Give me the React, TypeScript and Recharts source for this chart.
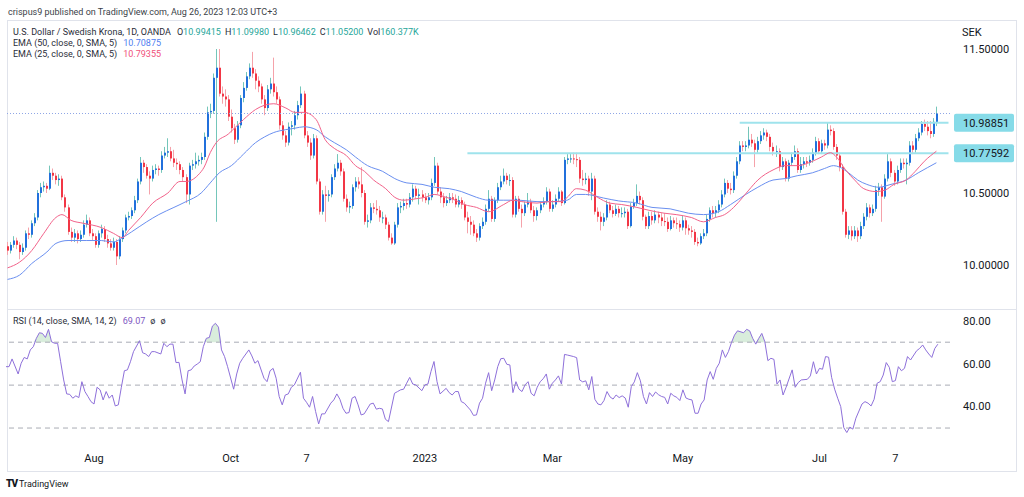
import React from 'react';
import { ComposedChart, Bar, Line, Area, XAxis, YAxis, ReferenceLine } from 'recharts';

const FONT = 'Roboto, "Noto Sans", "DejaVu Sans", sans-serif';

// ---------- price data (daily candles, USD/SEK) ----------
const OPEN = [
  10.13, 10.10, 10.14, 10.17, 10.14, 10.09, 10.12, 10.22, 10.21, 10.29,
  10.33, 10.50, 10.54, 10.55, 10.53, 10.64, 10.62, 10.59, 10.60, 10.47,
  10.40, 10.23, 10.19, 10.22, 10.18, 10.21, 10.28, 10.31, 10.22, 10.20,
  10.14, 10.22, 10.25, 10.18, 10.15, 10.12, 10.16, 10.06, 10.18, 10.24,
  10.33, 10.34, 10.38, 10.45, 10.58, 10.71, 10.68, 10.62, 10.60, 10.66,
  10.67, 10.66, 10.76, 10.78, 10.79, 10.74, 10.71, 10.70, 10.66, 10.61,
  10.49, 10.69, 10.70, 10.72, 10.73, 10.75, 10.89, 11.06, 11.07, 11.30,
  11.37, 11.19, 11.17, 11.15, 11.03, 10.95, 10.87, 10.97, 11.16, 11.23,
  11.31, 11.37, 11.33, 11.28, 11.24, 11.15, 11.09, 11.22, 11.26, 11.20,
  11.15, 10.97, 10.90, 10.85, 10.96, 10.97, 11.04, 11.11, 11.19, 10.90,
  10.85, 10.76, 10.88, 10.58, 10.37, 10.49, 10.48, 10.49, 10.61, 10.67,
  10.71, 10.65, 10.46, 10.40, 10.41, 10.54, 10.58, 10.56, 10.50, 10.30,
  10.31, 10.40, 10.39, 10.38, 10.33, 10.33, 10.28, 10.19, 10.15, 10.28,
  10.40, 10.41, 10.43, 10.42, 10.47, 10.53, 10.48, 10.49, 10.47, 10.45,
  10.47, 10.57, 10.69, 10.51, 10.47, 10.43, 10.45, 10.47, 10.46, 10.42,
  10.45, 10.42, 10.33, 10.30, 10.28, 10.22, 10.19, 10.27, 10.30, 10.39,
  10.46, 10.32, 10.45, 10.54, 10.58, 10.62, 10.59, 10.59, 10.35, 10.46,
  10.39, 10.36, 10.42, 10.44, 10.38, 10.34, 10.38, 10.42, 10.44, 10.51,
  10.39, 10.42, 10.46, 10.51, 10.43, 10.73, 10.74, 10.74, 10.735, 10.73,
  10.60, 10.59, 10.60, 10.51, 10.60, 10.37, 10.335, 10.30, 10.33, 10.42,
  10.38, 10.355, 10.39, 10.36, 10.36, 10.37, 10.27, 10.405, 10.43, 10.48,
  10.45, 10.335, 10.27, 10.34, 10.31, 10.35, 10.33, 10.305, 10.30, 10.25,
  10.31, 10.29, 10.285, 10.26, 10.31, 10.255, 10.24, 10.23, 10.16, 10.15,
  10.20, 10.22, 10.32, 10.38, 10.36, 10.38, 10.42, 10.49, 10.57, 10.53,
  10.52, 10.62, 10.72, 10.83, 10.82, 10.83, 10.87, 10.845, 10.80, 10.86,
  10.90, 10.92, 10.89, 10.82, 10.79, 10.79, 10.68, 10.72, 10.60, 10.71,
  10.75, 10.79, 10.66, 10.70, 10.72, 10.71, 10.73, 10.78, 10.86, 10.79,
  10.845, 10.83, 10.94, 10.93, 10.82, 10.76, 10.68, 10.37, 10.21, 10.24,
  10.20, 10.24, 10.20, 10.27, 10.335, 10.40, 10.36, 10.39, 10.52, 10.54,
  10.475, 10.60, 10.72, 10.64, 10.58, 10.66, 10.71, 10.70, 10.71, 10.83,
  10.80, 10.88, 10.92, 10.98, 10.96, 10.93, 10.91, 10.994,
];

const HIGH = [
  10.16, 10.16, 10.20, 10.19, 10.16, 10.15, 10.24, 10.26, 10.31, 10.36,
  10.52, 10.57, 10.58, 10.57, 10.69, 10.67, 10.64, 10.63, 10.62, 10.49,
  10.42, 10.26, 10.25, 10.24, 10.24, 10.31, 10.35, 10.33, 10.25, 10.22,
  10.24, 10.28, 10.27, 10.21, 10.18, 10.19, 10.18, 10.20, 10.26, 10.35,
  10.37, 10.40, 10.48, 10.60, 10.75, 10.73, 10.70, 10.65, 10.69, 10.70,
  10.69, 10.79, 10.82, 10.88, 10.82, 10.80, 10.74, 10.72, 10.68, 10.63,
  10.71, 10.73, 10.78, 10.76, 10.78, 10.92, 11.10, 11.12, 11.33, 11.50,
  11.50, 11.24, 11.22, 11.18, 11.08, 10.98, 11.00, 11.18, 11.27, 11.34,
  11.40, 11.48, 11.36, 11.31, 11.26, 11.18, 11.25, 11.30, 11.44, 11.24,
  11.17, 11.00, 10.93, 10.99, 11.00, 11.07, 11.14, 11.24, 11.21, 10.93,
  10.88, 10.91, 10.90, 10.60, 10.52, 10.55, 10.52, 10.63, 10.70, 10.77,
  10.73, 10.67, 10.49, 10.44, 10.56, 10.61, 10.61, 10.68, 10.52, 10.35,
  10.43, 10.43, 10.45, 10.41, 10.37, 10.35, 10.30, 10.22, 10.30, 10.43,
  10.44, 10.46, 10.46, 10.50, 10.56, 10.55, 10.53, 10.52, 10.50, 10.50,
  10.60, 10.75, 10.71, 10.54, 10.50, 10.48, 10.50, 10.50, 10.49, 10.48,
  10.47, 10.44, 10.37, 10.34, 10.31, 10.25, 10.29, 10.33, 10.42, 10.52,
  10.48, 10.47, 10.57, 10.62, 10.67, 10.64, 10.63, 10.61, 10.48, 10.48,
  10.42, 10.44, 10.50, 10.46, 10.41, 10.40, 10.44, 10.47, 10.54, 10.53,
  10.45, 10.49, 10.54, 10.52, 10.75, 10.77, 10.77, 10.78, 10.78, 10.75,
  10.66, 10.64, 10.62, 10.64, 10.62, 10.40, 10.37, 10.36, 10.45, 10.44,
  10.41, 10.42, 10.41, 10.40, 10.40, 10.39, 10.43, 10.46, 10.56, 10.51,
  10.47, 10.35, 10.37, 10.37, 10.38, 10.37, 10.36, 10.36, 10.33, 10.34,
  10.33, 10.33, 10.31, 10.34, 10.33, 10.28, 10.27, 10.25, 10.19, 10.22,
  10.25, 10.35, 10.40, 10.41, 10.41, 10.45, 10.52, 10.60, 10.59, 10.57,
  10.65, 10.75, 10.86, 10.86, 10.86, 10.96, 10.91, 10.87, 10.89, 10.93,
  10.95, 10.94, 10.91, 10.85, 10.83, 10.81, 10.75, 10.74, 10.73, 10.78,
  10.83, 10.81, 10.75, 10.75, 10.75, 10.76, 10.81, 10.89, 10.88, 10.87,
  10.87, 10.99, 10.97, 10.95, 10.84, 10.78, 10.70, 10.39, 10.27, 10.27,
  10.27, 10.26, 10.30, 10.36, 10.43, 10.42, 10.42, 10.55, 10.57, 10.56,
  10.63, 10.77, 10.74, 10.66, 10.69, 10.74, 10.74, 10.74, 10.86, 10.86,
  10.91, 10.95, 11.00, 11.01, 11.00, 11.00, 11.02, 11.0998,
];

const LOW = [
  10.07, 10.08, 10.12, 10.11, 10.04, 10.07, 10.10, 10.18, 10.19, 10.27,
  10.31, 10.47, 10.51, 10.50, 10.52, 10.59, 10.56, 10.55, 10.45, 10.37,
  10.21, 10.16, 10.16, 10.15, 10.16, 10.19, 10.26, 10.20, 10.17, 10.12,
  10.12, 10.19, 10.16, 10.12, 10.10, 10.10, 10.00, 10.04, 10.16, 10.22,
  10.31, 10.32, 10.36, 10.43, 10.56, 10.64, 10.60, 10.49, 10.58, 10.63,
  10.62, 10.64, 10.74, 10.75, 10.72, 10.68, 10.66, 10.63, 10.58, 10.43,
  10.42, 10.66, 10.67, 10.69, 10.70, 10.73, 10.87, 11.02, 11.05, 10.30,
  11.17, 11.12, 11.10, 11.00, 10.92, 10.84, 10.85, 10.95, 11.13, 11.21,
  11.29, 11.30, 11.22, 11.20, 11.12, 11.04, 11.07, 11.19, 11.17, 11.12,
  10.94, 10.87, 10.82, 10.83, 10.90, 10.94, 11.01, 11.09, 10.88, 10.82,
  10.73, 10.74, 10.56, 10.35, 10.35, 10.30, 10.44, 10.47, 10.59, 10.65,
  10.62, 10.44, 10.37, 10.36, 10.39, 10.51, 10.53, 10.47, 10.28, 10.26,
  10.29, 10.36, 10.35, 10.30, 10.29, 10.25, 10.17, 10.14, 10.14, 10.26,
  10.36, 10.38, 10.39, 10.40, 10.44, 10.46, 10.42, 10.44, 10.43, 10.42,
  10.45, 10.55, 10.49, 10.43, 10.40, 10.41, 10.43, 10.43, 10.40, 10.40,
  10.39, 10.31, 10.22, 10.21, 10.20, 10.16, 10.17, 10.25, 10.28, 10.37,
  10.30, 10.30, 10.43, 10.52, 10.56, 10.56, 10.55, 10.33, 10.33, 10.37,
  10.26, 10.34, 10.40, 10.36, 10.30, 10.31, 10.36, 10.40, 10.42, 10.37,
  10.37, 10.40, 10.44, 10.41, 10.42, 10.70, 10.71, 10.70, 10.68, 10.57,
  10.55, 10.56, 10.48, 10.45, 10.35, 10.30, 10.24, 10.27, 10.31, 10.36,
  10.33, 10.34, 10.33, 10.33, 10.33, 10.25, 10.26, 10.39, 10.41, 10.42,
  10.31, 10.25, 10.25, 10.28, 10.29, 10.29, 10.27, 10.27, 10.23, 10.24,
  10.26, 10.25, 10.23, 10.24, 10.21, 10.21, 10.19, 10.14, 10.13, 10.14,
  10.18, 10.20, 10.30, 10.33, 10.33, 10.36, 10.40, 10.47, 10.50, 10.49,
  10.50, 10.60, 10.70, 10.79, 10.79, 10.81, 10.82, 10.68, 10.78, 10.84,
  10.87, 10.86, 10.79, 10.76, 10.75, 10.65, 10.66, 10.58, 10.58, 10.69,
  10.73, 10.64, 10.64, 10.67, 10.68, 10.69, 10.71, 10.76, 10.77, 10.77,
  10.80, 10.81, 10.90, 10.80, 10.73, 10.65, 10.35, 10.19, 10.18, 10.17,
  10.18, 10.16, 10.18, 10.25, 10.31, 10.33, 10.34, 10.37, 10.48, 10.30,
  10.46, 10.58, 10.61, 10.55, 10.56, 10.64, 10.67, 10.56, 10.69, 10.77,
  10.78, 10.86, 10.90, 10.93, 10.90, 10.88, 10.89, 10.9646,
];

const CLOSE = [
  10.10, 10.14, 10.17, 10.14, 10.09, 10.12, 10.22, 10.21, 10.29, 10.33,
  10.50, 10.54, 10.55, 10.53, 10.64, 10.62, 10.59, 10.60, 10.47, 10.40,
  10.23, 10.19, 10.22, 10.18, 10.21, 10.28, 10.31, 10.22, 10.20, 10.14,
  10.22, 10.25, 10.18, 10.15, 10.12, 10.16, 10.06, 10.18, 10.24, 10.33,
  10.34, 10.38, 10.45, 10.58, 10.71, 10.68, 10.62, 10.60, 10.66, 10.67,
  10.66, 10.76, 10.78, 10.79, 10.74, 10.71, 10.70, 10.66, 10.61, 10.49,
  10.69, 10.70, 10.72, 10.73, 10.75, 10.89, 11.06, 11.07, 11.30, 11.37,
  11.19, 11.17, 11.15, 11.03, 10.95, 10.87, 10.97, 11.16, 11.23, 11.31,
  11.37, 11.33, 11.28, 11.24, 11.15, 11.09, 11.22, 11.26, 11.20, 11.15,
  10.97, 10.90, 10.85, 10.96, 10.97, 11.04, 11.11, 11.19, 10.90, 10.85,
  10.76, 10.88, 10.58, 10.37, 10.49, 10.48, 10.49, 10.61, 10.67, 10.71,
  10.65, 10.46, 10.40, 10.41, 10.54, 10.58, 10.56, 10.50, 10.30, 10.31,
  10.40, 10.39, 10.38, 10.33, 10.33, 10.28, 10.19, 10.15, 10.28, 10.40,
  10.41, 10.43, 10.42, 10.47, 10.53, 10.48, 10.49, 10.47, 10.45, 10.47,
  10.57, 10.69, 10.51, 10.47, 10.43, 10.45, 10.47, 10.46, 10.42, 10.45,
  10.42, 10.33, 10.30, 10.28, 10.22, 10.19, 10.27, 10.30, 10.39, 10.46,
  10.32, 10.45, 10.54, 10.58, 10.62, 10.59, 10.59, 10.35, 10.46, 10.39,
  10.36, 10.42, 10.44, 10.38, 10.34, 10.38, 10.42, 10.44, 10.51, 10.39,
  10.42, 10.46, 10.51, 10.43, 10.73, 10.74, 10.74, 10.735, 10.73, 10.60,
  10.59, 10.60, 10.51, 10.60, 10.37, 10.335, 10.30, 10.33, 10.42, 10.38,
  10.355, 10.39, 10.36, 10.36, 10.37, 10.27, 10.405, 10.43, 10.48, 10.45,
  10.335, 10.27, 10.34, 10.31, 10.35, 10.33, 10.305, 10.30, 10.25, 10.31,
  10.29, 10.285, 10.26, 10.31, 10.255, 10.24, 10.23, 10.16, 10.15, 10.20,
  10.22, 10.32, 10.38, 10.36, 10.38, 10.42, 10.49, 10.57, 10.53, 10.52,
  10.62, 10.72, 10.83, 10.82, 10.83, 10.87, 10.845, 10.80, 10.86, 10.90,
  10.92, 10.89, 10.82, 10.79, 10.79, 10.68, 10.72, 10.60, 10.71, 10.75,
  10.79, 10.66, 10.70, 10.72, 10.71, 10.73, 10.78, 10.86, 10.79, 10.845,
  10.83, 10.94, 10.93, 10.82, 10.76, 10.68, 10.37, 10.21, 10.24, 10.20,
  10.24, 10.20, 10.27, 10.335, 10.40, 10.36, 10.39, 10.52, 10.54, 10.475,
  10.60, 10.72, 10.64, 10.58, 10.66, 10.71, 10.70, 10.71, 10.83, 10.80,
  10.88, 10.92, 10.98, 10.96, 10.93, 10.91, 10.994, 11.052,
];

// ---------- indicator readings [candle index, value] ----------
const EMA50_PTS: [number, number][] = [
  [0, 9.90], [4, 9.93], [8, 10.01], [13, 10.09], [16, 10.15], [20, 10.17], [26, 10.17], [31, 10.17],
  [35, 10.16], [38, 10.19], [41, 10.23], [46, 10.30], [50, 10.35], [55, 10.40], [59, 10.44], [64, 10.50],
  [67, 10.57], [70, 10.64], [74, 10.69], [78, 10.77], [82, 10.85], [85, 10.89], [88, 10.92], [92, 10.94],
  [95, 10.95], [98, 10.96], [102, 10.94], [105, 10.89], [108, 10.85], [112, 10.80], [115, 10.75], [119, 10.69],
  [124, 10.65], [128, 10.60], [132, 10.57], [137, 10.56], [141, 10.54], [146, 10.53], [150, 10.51], [155, 10.47],
  [159, 10.45], [164, 10.45], [169, 10.45], [175, 10.44], [180, 10.44], [185, 10.45], [188, 10.49], [191, 10.49],
  [197, 10.465], [202, 10.445], [208, 10.43], [213, 10.40], [219, 10.39], [225, 10.36], [230, 10.35], [235, 10.37],
  [239, 10.42], [244, 10.49], [248, 10.54], [253, 10.59], [257, 10.60], [261, 10.62], [266, 10.64], [270, 10.67],
  [273, 10.69], [275, 10.68], [278, 10.64], [281, 10.59], [284, 10.56], [288, 10.54], [292, 10.56], [297, 10.59],
  [301, 10.64], [307, 10.71],
];

const EMA25_PTS: [number, number][] = [
  [0, 9.98], [4, 10.02], [8, 10.10], [12, 10.22], [16, 10.33], [18, 10.35], [21, 10.31], [25, 10.29],
  [31, 10.26], [35, 10.22], [38, 10.19], [40, 10.24], [44, 10.33], [48, 10.43], [53, 10.50], [57, 10.58],
  [59, 10.58], [63, 10.625], [65, 10.68], [67, 10.78], [69, 10.85], [73, 10.91], [75, 10.95], [78, 11.01],
  [82, 11.08], [85, 11.11], [88, 11.12], [92, 11.09], [95, 11.06], [98, 11.06], [102, 11.01], [105, 10.87],
  [108, 10.81], [112, 10.76], [115, 10.69], [118, 10.65], [121, 10.59], [125, 10.53], [128, 10.47], [131, 10.45],
  [135, 10.46], [138, 10.47], [141, 10.49], [145, 10.47], [148, 10.45], [151, 10.42], [155, 10.40], [159, 10.37],
  [164, 10.42], [167, 10.45], [170, 10.44], [175, 10.43], [179, 10.44], [183, 10.44], [185, 10.47], [188, 10.53],
  [191, 10.52], [195, 10.47], [199, 10.43], [203, 10.42], [208, 10.40], [212, 10.38], [217, 10.36], [221, 10.35],
  [226, 10.33], [230, 10.30], [234, 10.33], [237, 10.35], [240, 10.40], [243, 10.47], [245, 10.52], [248, 10.59],
  [253, 10.66], [257, 10.69], [261, 10.69], [266, 10.72], [269, 10.75], [272, 10.78], [274, 10.75], [277, 10.66],
  [280, 10.59], [283, 10.53], [287, 10.51], [290, 10.52], [293, 10.56], [297, 10.59], [300, 10.65], [303, 10.72],
  [307, 10.79],
];

const RSI_PTS: [number, number][] = [
  [0, 58.6], [1, 58.6], [2, 62.2], [4, 55.2], [5, 60.2], [6, 62.9], [7, 62.2], [8, 66.4], [9, 67.9],
  [10, 71.8], [11, 74.4], [12, 74.1], [13, 72.2], [14, 76.0], [15, 70.2], [16, 69.5], [17, 69.5], [18, 60.9], [19, 52.4],
  [20, 45.9], [21, 45.7], [22, 43.9], [23, 45.0], [24, 44.2], [25, 51.6], [26, 47.0], [27, 44.7], [28, 42.3], [29, 41.2],
  [30, 49.0], [31, 47.8], [32, 43.1], [33, 47.0], [34, 43.9], [35, 45.4], [36, 40.3], [37, 40.8], [38, 49.0], [39, 56.7],
  [40, 57.1], [41, 60.9], [42, 65.6], [44, 70.7], [45, 65.1], [46, 64.5], [47, 63.3], [48, 65.6], [49, 65.6],
  [51, 64.5], [52, 69.5], [53, 67.9], [54, 69.1], [55, 69.1], [56, 60.5], [57, 60.6], [58, 52.4], [59, 45.9],
  [60, 56.7], [61, 57.1], [62, 58.9], [63, 59.8], [64, 60.9], [65, 67.9], [66, 71.8], [67, 72.2], [68, 77.5], [69, 78.8],
  [70, 77.0], [71, 66.4], [72, 63.3], [73, 58.6], [75, 48.1], [76, 55.2], [77, 60.2], [78, 62.5],
  [80, 66.4], [81, 63.6], [82, 60.2], [83, 61.4], [85, 53.2], [86, 51.6], [87, 56.7], [88, 57.8], [89, 53.2],
  [90, 44.7], [91, 40.8], [92, 45.4], [93, 45.9], [94, 49.0], [95, 50.1], [97, 56.0], [98, 43.9], [99, 42.0],
  [100, 39.7], [101, 44.7], [102, 37.7], [103, 31.9], [104, 36.6], [105, 36.6], [107, 41.6], [108, 43.1], [109, 45.9],
  [110, 43.4], [111, 39.2], [112, 36.9], [113, 37.2], [114, 43.9], [115, 44.7], [116, 40.8], [117, 36.1], [118, 36.6],
  [120, 41.2], [121, 41.6], [122, 38.8], [123, 39.2], [124, 38.9], [125, 34.1], [126, 33.0], [128, 46.2], [129, 47.0],
  [130, 47.8], [131, 48.1], [132, 50.9], [133, 53.6], [134, 50.5], [135, 50.1], [137, 47.4], [138, 50.1], [139, 50.5],
  [140, 56.3], [141, 61.0], [142, 51.6], [143, 45.9], [145, 48.5], [146, 46.5], [147, 45.4], [148, 47.0], [149, 47.0],
  [150, 42.3], [151, 41.6], [153, 38.4], [154, 35.9], [155, 36.1], [156, 41.6], [157, 43.9], [158, 50.9], [159, 55.8],
  [160, 47.4], [161, 52.4], [162, 58.6], [163, 62.3], [164, 62.5], [165, 59.7], [166, 59.4], [167, 46.5], [168, 51.6], [169, 48.1],
  [170, 47.0], [171, 50.1], [172, 51.6], [173, 46.2], [174, 45.0], [175, 49.0], [176, 51.6], [177, 53.0], [178, 55.2], [179, 48.1],
  [180, 50.9], [181, 52.4], [182, 54.3], [183, 50.5], [184, 64.3], [185, 64.0], [187, 63.3], [188, 62.8], [189, 52.4],
  [190, 51.5], [191, 52.0], [192, 47.8], [193, 54.0], [194, 43.4], [195, 41.2], [196, 40.8], [197, 42.8], [198, 47.0], [199, 44.5],
  [200, 43.5], [201, 45.4], [202, 44.2], [203, 45.0], [204, 44.0], [205, 39.7], [206, 49.3], [207, 51.5], [208, 55.8], [209, 52.0],
  [210, 44.7], [211, 41.2], [212, 46.5], [213, 44.7], [214, 46.8], [215, 45.5], [216, 44.7], [217, 44.3], [218, 41.2], [219, 46.2],
  [220, 45.0], [221, 44.3], [222, 42.8], [223, 47.8], [224, 44.0], [225, 43.4], [226, 43.1], [227, 36.9], [228, 36.9], [229, 41.2],
  [230, 43.1], [231, 52.4], [232, 56.3], [233, 52.7], [234, 57.8], [235, 60.2], [236, 66.4], [237, 62.9], [238, 65.6], [239, 69.8],
  [240, 73.3], [241, 75.3], [243, 74.4], [244, 76.0], [245, 75.3], [246, 71.8], [247, 69.1], [248, 71.8], [249, 74.1],
  [250, 70.2], [251, 61.4], [252, 62.5], [253, 62.0], [254, 50.5], [255, 52.4], [256, 45.4], [257, 49.0], [259, 57.1],
  [260, 49.0], [261, 51.2], [262, 52.4], [264, 52.7], [265, 54.3], [266, 60.9], [267, 55.2], [268, 57.8], [269, 57.4],
  [270, 63.3], [271, 63.0], [272, 53.6], [273, 48.1], [274, 43.9], [275, 40.0], [276, 30.2], [277, 27.9], [278, 30.4], [279, 29.5],
  [280, 34.6], [282, 41.2], [283, 42.3], [284, 41.6], [285, 40.3], [286, 43.4], [287, 50.9], [288, 51.6], [289, 54.7],
  [290, 60.5], [291, 58.3], [292, 51.6], [293, 52.1], [294, 58.6], [295, 56.7], [296, 57.8], [297, 63.3], [298, 61.7],
  [300, 66.0], [301, 67.1], [302, 68.7], [303, 66.4], [304, 64.5], [305, 62.9], [306, 67.1], [307, 69.07],
];

// ---------- axis / annotation values ----------
const TICK_IDX = [29, 74, 99, 138, 180, 223, 268, 293];
const TICK_LABELS = ['Aug', 'Oct', '7', '2023', 'Mar', 'May', 'Jul', '7'];
const PRICE_TICKS = [10, 10.5, 11.5];
const LEVELS = [10.98851, 10.77592];
const LEVEL_START = [242, 152];
const LAST_CLOSE = 11.052;
const RSI_TICKS = [40, 60, 80];
const RSI_BANDS = [70, 50, 30];
const PAD = 4;

// ---------- styling ----------
const BODY_UP = '#2170dc';
const BODY_DN = '#f23645';
const WICK_UP = '#74c6ba';
const WICK_DN = '#f5a2aa';
const EMA50_C = '#6a8ff0';
const EMA25_C = '#f2628a';
const RSI_C = '#8e70da';
const LEVEL_LINE = '#9fe3ec';
const LEVEL_BOX = '#86dbe8';
const TEXT = '#131722';
const BORDER = '#e0e3eb';

type Row = {
  i: number; o?: number; h?: number; l?: number; c?: number;
  range?: [number, number]; ema25?: number; ema50?: number; rsi?: number; ob?: [number, number];
};

const rows: Row[] = [];
for (let i = 0; i < CLOSE.length + PAD; i++) {
  const r: Row = { i };
  if (i < CLOSE.length) {
    r.o = OPEN[i]; r.h = HIGH[i]; r.l = LOW[i]; r.c = CLOSE[i];
    r.range = [LOW[i], HIGH[i]];
  }
  rows.push(r);
}
EMA50_PTS.forEach(([i, v]) => { rows[i].ema50 = v; });
EMA25_PTS.forEach(([i, v]) => { rows[i].ema25 = v; });
RSI_PTS.forEach(([i, v]) => { rows[i].rsi = v; rows[i].ob = [70, Math.max(70, v)]; });
const LAST_I = rows.length - 1;

const Candle = (p: any) => {
  const { x, y, width, height, payload } = p;
  if (!payload || payload.h == null || !isFinite(y) || !isFinite(height)) return null;
  const top = Math.min(y, y + height);
  const hh = Math.abs(height);
  const { o, c, h, l } = payload;
  const k = hh / Math.max(1e-9, h - l);
  const bTop = top + (h - Math.max(o, c)) * k;
  const bBot = top + (h - Math.min(o, c)) * k;
  const up = c >= o;
  const px = Math.round(x + width / 2);
  return (
    <g>
      <line x1={px - 0.5} x2={px - 0.5} y1={top} y2={top + hh} stroke={up ? WICK_UP : WICK_DN} strokeWidth={1} />
      <rect x={px - 1} y={bTop} width={2} height={Math.max(1, bBot - bTop)} fill={up ? BODY_UP : BODY_DN} />
    </g>
  );
};

const PriceTick = (p: any) => {
  const { x, y, payload } = p;
  const v = payload.value as number;
  const isLevel = LEVELS.includes(v);
  return (
    <g>
      {isLevel && <rect x={x + 4} y={y - 9} width={60} height={18} rx={2} fill={LEVEL_BOX} />}
      <text x={x + 13} y={y} dy="0.35em" fontSize={11} fill={TEXT} fontFamily={FONT}>{v.toFixed(5)}</text>
    </g>
  );
};

const RsiTick = (p: any) => {
  const { x, y, payload } = p;
  return (
    <text x={x + 13} y={y} dy="0.35em" fontSize={11} fill={TEXT} fontFamily={FONT}>
      {(payload.value as number).toFixed(2)}
    </text>
  );
};

const TimeTick = (p: any) => {
  const { x, y, payload } = p;
  const idx = TICK_IDX.indexOf(payload.value);
  return (
    <text x={x} y={y + 13} dy="0.35em" textAnchor="middle" fontSize={11} fill={TEXT} fontFamily={FONT}>
      {idx >= 0 ? TICK_LABELS[idx] : ''}
    </text>
  );
};

const small: React.CSSProperties = { position: 'absolute', fontSize: 9, lineHeight: '12px', whiteSpace: 'nowrap', fontFamily: FONT, color: '#2a2e39' };
const teal: React.CSSProperties = { color: '#26a69a' };
const gap: React.CSSProperties = { marginLeft: 4 };

export default function App() {
  return (
    <div style={{ position: 'absolute', left: 0, top: 0, width: 1024, height: 497, background: '#fff', overflow: 'hidden', fontFamily: FONT }}>
      {/* frame */}
      <div style={{ position: 'absolute', left: 7, top: 20, width: 1008, height: 450, border: `1px solid ${BORDER}` }} />
      <div style={{ position: 'absolute', left: 8, top: 309, width: 1008, height: 1, background: BORDER }} />

      {/* price pane */}
      <div style={{ position: 'absolute', left: 0, top: 22 }}>
        <ComposedChart width={1024} height={286} data={rows} margin={{ top: 0, right: 0, left: 6, bottom: 0 }}>
          <XAxis dataKey="i" type="category" hide />
          <YAxis orientation="right" width={74} domain={[9.70139, 11.6875]} allowDataOverflow
            ticks={[...PRICE_TICKS, ...LEVELS]} interval={0} axisLine={false} tickLine={false}
            tickSize={0} tickMargin={0} tick={<PriceTick />} />
          <ReferenceLine y={LAST_CLOSE} stroke="#8fa6e6" strokeDasharray="1 2" strokeWidth={1} />
          {LEVELS.map((lv, k) => (
            <ReferenceLine key={lv} segment={[{ x: LEVEL_START[k], y: lv }, { x: LAST_I, y: lv }]}
              stroke={LEVEL_LINE} strokeWidth={2} />
          ))}
          <Line dataKey="ema50" stroke={EMA50_C} strokeWidth={1} dot={false} connectNulls type="monotone" isAnimationActive={false} />
          <Line dataKey="ema25" stroke={EMA25_C} strokeWidth={1} dot={false} connectNulls type="monotone" isAnimationActive={false} />
          <Bar dataKey="range" barSize={2} isAnimationActive={false} shape={(props: any) => <Candle {...props} />} />
        </ComposedChart>
      </div>

      {/* RSI pane */}
      <div style={{ position: 'absolute', left: 0, top: 310 }}>
        <ComposedChart width={1024} height={161} data={rows} margin={{ top: 0, right: 0, left: 6, bottom: 0 }}>
          <XAxis dataKey="i" type="category" ticks={TICK_IDX} interval={0} height={26}
            axisLine={false} tickLine={false} tickSize={0} tickMargin={0} tick={<TimeTick />} />
          <YAxis orientation="right" width={74} domain={[22.1, 85]} allowDataOverflow ticks={RSI_TICKS}
            interval={0} axisLine={false} tickLine={false} tickSize={0} tickMargin={0} tick={<RsiTick />} />
          {RSI_BANDS.map((b) => (
            <ReferenceLine key={b} y={b} stroke="#a9acb5" strokeDasharray="5 4" strokeWidth={1} />
          ))}
          <Area dataKey="ob" connectNulls stroke="none" fill="#cfe9d3" fillOpacity={0.8} isAnimationActive={false} />
          <Line dataKey="rsi" stroke={RSI_C} strokeWidth={1} dot={false} connectNulls isAnimationActive={false} />
        </ComposedChart>
      </div>

      {/* texts */}
      <div style={{ ...small, left: 8, top: 6, color: '#3b3f48' }}>crispus9 published on TradingView.com, Aug 26, 2023 12:03 UTC+3</div>
      <div style={{ ...small, left: 13, top: 26 }}>
        U.S. Dollar / Swedish Krona, 1D, OANDA
        <span style={{ marginLeft: 6 }}>O</span><span style={teal}>10.99415</span>
        <span style={gap}>H</span><span style={teal}>11.09980</span>
        <span style={gap}>L</span><span style={teal}>10.96462</span>
        <span style={gap}>C</span><span style={teal}>11.05200</span>
        <span style={gap}>Vol</span><span style={teal}>160.377K</span>
      </div>
      <div style={{ ...small, left: 13, top: 37 }}>EMA (50, close, 0, SMA, 5)<span style={{ marginLeft: 6, color: '#4f7ef0' }}>10.70875</span></div>
      <div style={{ ...small, left: 13, top: 48 }}>EMA (25, close, 0, SMA, 5)<span style={{ marginLeft: 6, color: '#f0507a' }}>10.79355</span></div>
      <div style={{ ...small, left: 13, top: 315 }}>RSI (14, close, SMA, 14, 2)<span style={{ marginLeft: 6, color: '#7e57c2' }}>69.07</span><span style={{ marginLeft: 5 }}>ø</span><span style={{ marginLeft: 5 }}>ø</span></div>
      <div style={{ position: 'absolute', left: 962, top: 26, fontSize: 11, color: TEXT, fontFamily: FONT }}>SEK</div>
      <div style={{ position: 'absolute', left: 6, top: 478, fontSize: 9, color: TEXT, fontFamily: FONT, whiteSpace: 'nowrap' }}>
        <span style={{ fontWeight: 900, fontSize: 10, letterSpacing: -1 }}>TV</span> TradingView
      </div>
    </div>
  );
}
